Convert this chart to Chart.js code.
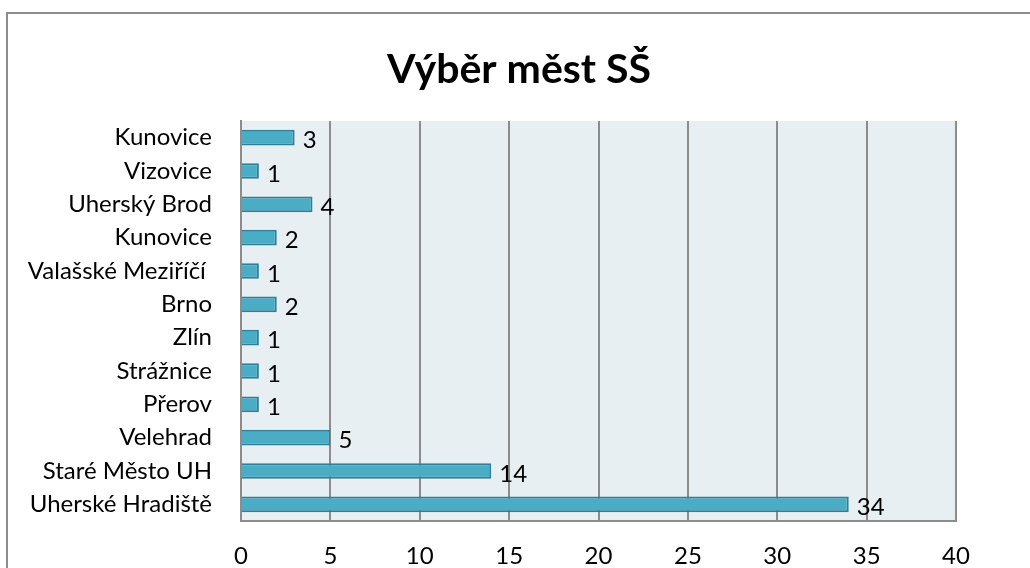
<!DOCTYPE html>
<html>
<head>
<meta charset="utf-8">
<script src="https://cdn.jsdelivr.net/npm/chart.js@4"></script>
<style>
  body { margin: 0; background: #fff; }
  #wrap { position: relative; width: 1030px; height: 568px; overflow: hidden; }
  #frame { position: absolute; left: 6px; top: 12px; width: 1030px; height: 600px; border: 2px solid #8c8c8c; box-sizing: border-box; }
  canvas { position: absolute; left: 0; top: 0; }
</style>
</head>
<body>
<div id="wrap">
  <div id="frame"></div>
  <canvas id="chart" width="1030" height="568"></canvas>
</div>
<script>
  // data, top to bottom
  const cities = ["Kunovice", "Vizovice", "Uherský Brod", "Kunovice", "Valašské Meziříčí ", "Brno", "Zlín", "Strážnice", "Přerov", "Velehrad", "Staré Město UH", "Uherské Hradiště"];
  const counts = [3, 1, 4, 2, 1, 2, 1, 1, 1, 5, 14, 34];
  const xTicks = [0, 5, 10, 15, 20, 25, 30, 35, 40];
  const chartTitle = "Výběr měst SŠ";

  const font = "Lato, 'Noto Sans', sans-serif";

  // light plot background
  const plotBg = {
    id: "plotBg",
    beforeDraw(chart) {
      const { ctx, chartArea: a } = chart;
      ctx.save();
      ctx.fillStyle = "#e8eff3";
      ctx.fillRect(a.left, a.top, a.right - a.left, a.bottom - a.top);
      ctx.restore();
    }
  };

  // title centred on the whole frame, not just the chart box
  const frameTitle = {
    id: "frameTitle",
    afterDraw(chart) {
      const ctx = chart.ctx;
      ctx.save();
      ctx.font = "bold 41px " + font;
      ctx.fillStyle = "#000";
      ctx.textAlign = "center";
      ctx.textBaseline = "middle";
      ctx.fillText(chartTitle, 519, 70);
      ctx.restore();
    }
  };

  // value labels after each bar
  const valueLabels = {
    id: "valueLabels",
    afterDatasetsDraw(chart) {
      const ctx = chart.ctx;
      const meta = chart.getDatasetMeta(0);
      ctx.save();
      ctx.font = "24px " + font;
      ctx.fillStyle = "#000";
      ctx.textBaseline = "middle";
      ctx.textAlign = "left";
      meta.data.forEach((bar, i) => {
        ctx.fillText(counts[i], bar.x + 8, bar.y + 3);
      });
      ctx.restore();
    }
  };

  new Chart(document.getElementById("chart"), {
    type: "bar",
    data: {
      labels: cities,
      datasets: [{
        data: counts,
        backgroundColor: "#4bacc6",
        borderColor: "#2f7f95",
        borderWidth: 2,
        categoryPercentage: 1,
        barPercentage: 0.47
      }]
    },
    options: {
      indexAxis: "y",
      responsive: false,
      animation: false,
      layout: { padding: { left: 0, right: 74, top: 121, bottom: 0 } },
      plugins: {
        legend: { display: false },
        tooltip: { enabled: false },
        title: { display: false }
      },
      scales: {
        x: {
          min: 0,
          max: 40,
          afterBuildTicks: (axis) => { axis.ticks = xTicks.map(v => ({ value: v })); },
          afterFit: (axis) => { axis.height = 47; },
          grid: { color: "#8c8c8c", lineWidth: 2, drawTicks: false },
          border: { color: "#8c8c8c", width: 2 },
          ticks: { color: "#000", font: { family: font, size: 24 }, padding: 21 }
        },
        y: {
          afterFit: (axis) => { axis.width = 241; },
          grid: { display: false },
          border: { color: "#8c8c8c", width: 2 },
          ticks: { color: "#000", font: { family: font, size: 24 }, padding: 21 }
        }
      }
    },
    plugins: [plotBg, valueLabels, frameTitle]
  });
</script>
</body>
</html>
